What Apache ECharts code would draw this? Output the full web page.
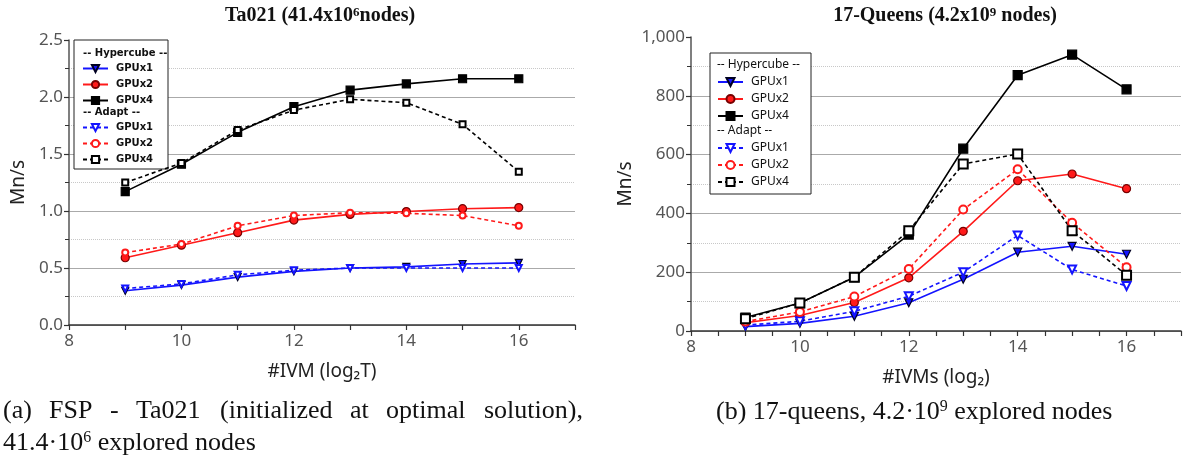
<!DOCTYPE html>
<html>
<head>
<meta charset="utf-8">
<script src="https://cdn.jsdelivr.net/npm/echarts@6/dist/echarts.min.js"></script>
<style>
html, body { margin: 0; background: #fff; }
#main { width: 1185px; height: 459px; }
</style>
</head>
<body>
<div id="main"></div>
<script>
const chart = echarts.init(document.getElementById('main'));

// x values: #IVM (log2)
const ivm = [9, 10, 11, 12, 13, 14, 15, 16];

// Ta021, Mn/s
const taHyper1 = [0.30, 0.35, 0.42, 0.47, 0.50, 0.51, 0.535, 0.545];
const taHyper2 = [0.59, 0.70, 0.81, 0.92, 0.97, 0.995, 1.02, 1.03];
const taHyper4 = [1.17, 1.41, 1.69, 1.915, 2.06, 2.115, 2.16, 2.16];
const taAdapt1 = [0.32, 0.36, 0.44, 0.48, 0.50, 0.50, 0.50, 0.50];
const taAdapt2 = [0.635, 0.71, 0.87, 0.96, 0.985, 0.98, 0.96, 0.87];
const taAdapt4 = [1.25, 1.42, 1.71, 1.885, 1.98, 1.95, 1.76, 1.345];

// 17-Queens, Mn/s
const qHyper1 = [15, 26, 50, 96, 176, 268, 288, 261];
const qHyper2 = [28, 53, 97, 181, 339, 511, 534, 484];
const qHyper4 = [46, 95, 183, 328, 620, 870, 940, 822];
const qAdapt1 = [20, 33, 67, 118, 200, 325, 209, 153];
const qAdapt2 = [32, 65, 117, 211, 413, 550, 368, 217];
const qAdapt4 = [42, 95, 183, 341, 568, 602, 341, 190];

const blue = '#1414ff';
const red = '#ff1a1a';
const black = '#000';

const labelFont = 'Noto Sans';
const serif = 'Liberation Serif';

function pts(vals) {
    return ivm.map((x, i) => [x, vals[i]]);
}

function serie(name, g, vals, color, symbol, size, dashed, rotate, border) {
    return {
        name: name,
        type: 'line',
        xAxisIndex: g,
        yAxisIndex: g,
        data: pts(vals),
        symbol: symbol,
        symbolSize: size,
        symbolRotate: rotate || 0,
        lineStyle: { color: color, width: 1.6, type: dashed ? [4, 3] : 'solid' },
        itemStyle: { color: color, borderColor: border || color, borderWidth: 1.2 },
        animation: false
    };
}

function xAxis(g, name, step) {
    return {
        type: 'value', gridIndex: g, min: 8, max: 17, interval: step,
        name: name, nameLocation: 'middle', nameGap: 37,
        nameTextStyle: { fontFamily: labelFont, fontSize: 19, color: '#222' },
        axisLine: { onZero: false, lineStyle: { color: '#333', width: 1.5 } },
        axisTick: { length: 5, lineStyle: { color: '#333', width: 1.2 } },
        axisLabel: {
            margin: 8, fontFamily: labelFont, fontSize: 17, color: '#555',
            formatter: v => (v % 2 === 0 && v < 17) ? String(v) : ''
        },
        splitLine: { show: false }
    };
}

function yAxis(g, max, step, gap, fmt) {
    return {
        type: 'value', gridIndex: g, min: 0, max: max, interval: step,
        name: 'Mn/s', nameLocation: 'middle', nameGap: gap,
        nameTextStyle: { fontFamily: labelFont, fontSize: 19, color: '#222' },
        axisLine: { show: true, lineStyle: { color: '#555', width: 1.5 } },
        axisTick: { show: true, length: 5, lineStyle: { color: '#333', width: 1.2 } },
        minorTick: { show: true, splitNumber: 2, length: 4, lineStyle: { color: '#333' } },
        axisLabel: { margin: 6, fontFamily: labelFont, fontSize: 17, color: '#555', formatter: fmt },
        splitLine: { show: true, showMaxLine: false, lineStyle: { color: '#aaa', width: 1.2 } },
        minorSplitLine: { show: true, lineStyle: { color: '#c8c8c8', type: 'dotted' } }
    };
}

function legend(names, left, top, gap, font, weight, size, iconH) {
    return {
        orient: 'vertical', left: left, top: top, padding: 0,
        itemGap: gap, itemWidth: 25, itemHeight: iconH,
        selectedMode: false,
        data: names,
        formatter: n => n.split(' ').pop(),
        textStyle: { fontFamily: font, fontWeight: weight, fontSize: size, lineHeight: iconH + 2, color: '#111', padding: [0, 0, 0, 3] }
    };
}

function txt(s, x, y, font, rich, align) {
    return {
        type: 'text', z: 6,
        style: { text: s, x: x, y: y, font: font, fill: '#111', align: align || 'left', verticalAlign: 'middle', rich: rich || {} }
    };
}

const supRich = { s: { fontFamily: serif, fontSize: 16, verticalAlign: 'top', fill: '#111' } };
const titleRich = { s: { fontFamily: serif, fontWeight: 'bold', fontSize: 13, verticalAlign: 'top', fill: '#111' } };
const capFont = '26px "' + serif + '"';
const titleFont = 'bold 20px "' + serif + '"';
const capWords = ['(a)', 'FSP', '-', 'Ta021', '(initialized', 'at', 'optimal', 'solution),'];
const capX = [3, 49, 110, 136, 220, 350, 386, 484];

const graphics = [
    { type: 'rect', z: 3, shape: { x: 74, y: 40, width: 94, height: 129 }, style: { fill: '#fff', stroke: '#222', lineWidth: 1 } },
    { type: 'rect', z: 3, shape: { x: 710, y: 53, width: 101, height: 141 }, style: { fill: '#fff', stroke: '#222', lineWidth: 1 } },
    txt('-- Hypercube --', 83, 53, 'bold 10px "DejaVu Sans"'),
    txt('-- Adapt --', 83, 112, 'bold 10px "DejaVu Sans"'),
    txt('-- Hypercube --', 717, 65, '12px "Noto Sans"'),
    txt('-- Adapt --', 717, 131, '12px "Noto Sans"'),
    txt('Ta021 (41.4x10{s|6}nodes)', 320, 16, titleFont, titleRich, 'center'),
    txt('17-Queens (4.2x10{s|9} nodes)', 945, 16, titleFont, titleRich, 'center'),
    txt('41.4·10{s|6} explored nodes', 3, 443, capFont, supRich),
    txt('(b) 17-queens, 4.2·10{s|9} explored nodes', 716, 412, capFont, supRich)
];
capWords.forEach((w, i) => graphics.push(txt(w, capX[i], 411, capFont)));

const option = {
    backgroundColor: '#fff',
    grid: [
        { left: 69, top: 40, width: 506, height: 285 },
        { left: 691, top: 37, width: 490, height: 294 }
    ],
    xAxis: [xAxis(0, '#IVM (log₂T)', 1), xAxis(1, '#IVMs (log₂)', 0.5)],
    yAxis: [
        yAxis(0, 2.5, 0.5, 41, v => v.toFixed(1)),
        yAxis(1, 1000, 200, 56, v => v.toLocaleString('en-US'))
    ],
    legend: [
        legend(['L Hypercube GPUx1', 'L Hypercube GPUx2', 'L Hypercube GPUx4'], 82, 63, 5, 'DejaVu Sans', 'bold', 10, 9),
        legend(['L Adapt GPUx1', 'L Adapt GPUx2', 'L Adapt GPUx4'], 82, 122, 5, 'DejaVu Sans', 'bold', 10, 9),
        legend(['R Hypercube GPUx1', 'R Hypercube GPUx2', 'R Hypercube GPUx4'], 717, 76, 5, 'Noto Sans', 'normal', 12, 10),
        legend(['R Adapt GPUx1', 'R Adapt GPUx2', 'R Adapt GPUx4'], 717, 142, 5, 'Noto Sans', 'normal', 12, 10)
    ],
    graphic: graphics,
    series: [
        serie('L Hypercube GPUx1', 0, taHyper1, blue, 'triangle', 7, false, 180, '#002'),
        serie('L Hypercube GPUx2', 0, taHyper2, red, 'circle', 8, false, 0, '#700'),
        serie('L Hypercube GPUx4', 0, taHyper4, black, 'rect', 8, false),
        serie('L Adapt GPUx1', 0, taAdapt1, blue, 'emptyTriangle', 6, true, 180),
        serie('L Adapt GPUx2', 0, taAdapt2, red, 'emptyCircle', 6, true),
        serie('L Adapt GPUx4', 0, taAdapt4, black, 'emptyRect', 6, true),
        serie('R Hypercube GPUx1', 1, qHyper1, blue, 'triangle', 8, false, 180, '#002'),
        serie('R Hypercube GPUx2', 1, qHyper2, red, 'circle', 8, false, 0, '#700'),
        serie('R Hypercube GPUx4', 1, qHyper4, black, 'rect', 9, false),
        serie('R Adapt GPUx1', 1, qAdapt1, blue, 'emptyTriangle', 8, true, 180),
        serie('R Adapt GPUx2', 1, qAdapt2, red, 'emptyCircle', 8, true),
        serie('R Adapt GPUx4', 1, qAdapt4, black, 'emptyRect', 9, true)
    ]
};

chart.setOption(option);
</script>
</body>
</html>
